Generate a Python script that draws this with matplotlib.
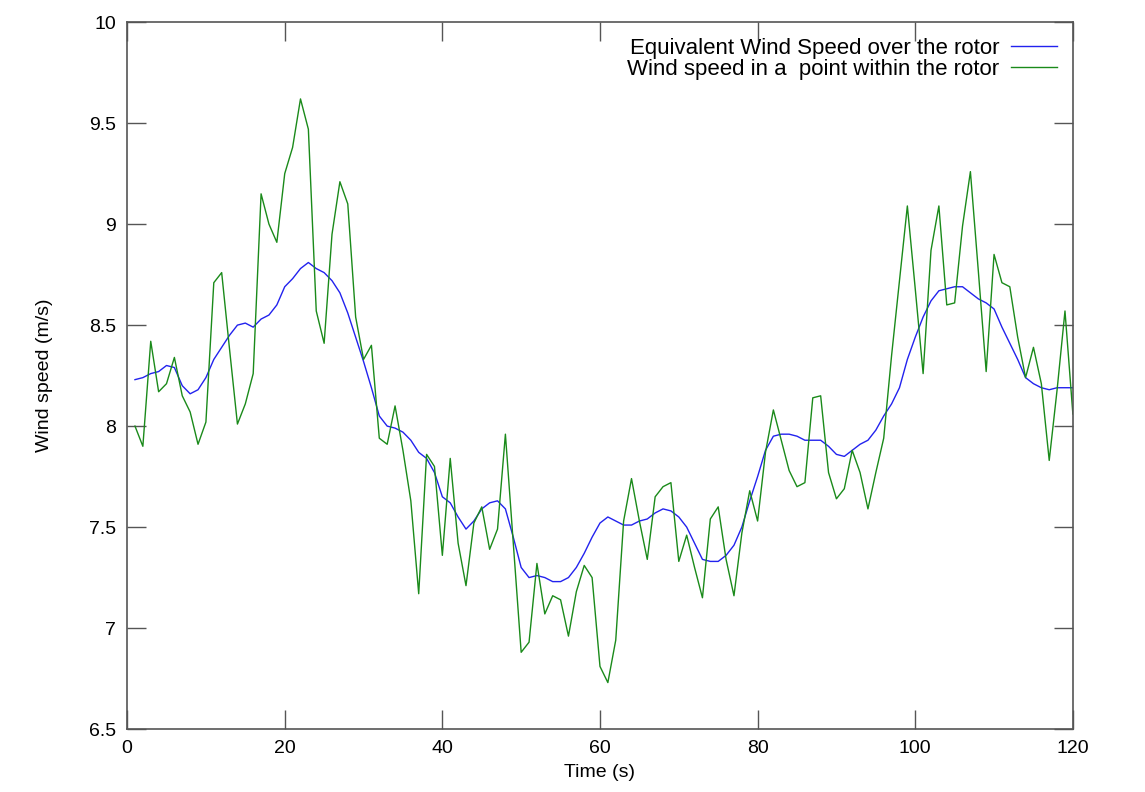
import matplotlib
matplotlib.use('Agg')
import matplotlib.pyplot as plt
import numpy as np

plt.rcParams['font.family'] = ['Liberation Sans', 'DejaVu Sans']

# time axis (s)
time = list(range(1, 121))

# equivalent wind speed over the rotor (m/s)
equiv_speed = [
    8.23, 8.24, 8.26, 8.27, 8.30, 8.29, 8.20, 8.16, 8.18, 8.24,
    8.33, 8.39, 8.45, 8.50, 8.51, 8.49, 8.53, 8.55, 8.60, 8.69,
    8.73, 8.78, 8.81, 8.78, 8.76, 8.72, 8.66, 8.56, 8.44, 8.32,
    8.19, 8.05, 8.00, 7.99, 7.97, 7.93, 7.87, 7.84, 7.77, 7.65,
    7.62, 7.55, 7.49, 7.53, 7.59, 7.62, 7.63, 7.59, 7.45, 7.30,
    7.25, 7.26, 7.25, 7.23, 7.23, 7.25, 7.30, 7.37, 7.45, 7.52,
    7.55, 7.53, 7.51, 7.51, 7.53, 7.54, 7.57, 7.59, 7.58, 7.55,
    7.50, 7.42, 7.34, 7.33, 7.33, 7.36, 7.41, 7.50, 7.63, 7.75,
    7.88, 7.95, 7.96, 7.96, 7.95, 7.93, 7.93, 7.93, 7.90, 7.86,
    7.85, 7.88, 7.91, 7.93, 7.98, 8.05, 8.11, 8.19, 8.33, 8.44,
    8.54, 8.62, 8.67, 8.68, 8.69, 8.69, 8.66, 8.63, 8.61, 8.58,
    8.49, 8.41, 8.33, 8.24, 8.21, 8.19, 8.18, 8.19, 8.19, 8.19,
]

# wind speed in a point within the rotor (m/s)
point_speed = [
    8.00, 7.90, 8.42, 8.17, 8.21, 8.34, 8.15, 8.07, 7.91, 8.02,
    8.71, 8.76, 8.38, 8.01, 8.11, 8.26, 9.15, 9.00, 8.91, 9.25,
    9.38, 9.62, 9.47, 8.57, 8.41, 8.95, 9.21, 9.10, 8.54, 8.33,
    8.40, 7.94, 7.91, 8.10, 7.88, 7.63, 7.17, 7.86, 7.80, 7.36,
    7.84, 7.42, 7.21, 7.52, 7.60, 7.39, 7.49, 7.96, 7.42, 6.88,
    6.93, 7.32, 7.07, 7.16, 7.14, 6.96, 7.18, 7.31, 7.25, 6.81,
    6.73, 6.94, 7.53, 7.74, 7.53, 7.34, 7.65, 7.70, 7.72, 7.33,
    7.46, 7.30, 7.15, 7.54, 7.60, 7.34, 7.16, 7.47, 7.68, 7.53,
    7.87, 8.08, 7.93, 7.78, 7.70, 7.72, 8.14, 8.15, 7.77, 7.64,
    7.69, 7.88, 7.77, 7.59, 7.77, 7.94, 8.35, 8.72, 9.09, 8.68,
    8.26, 8.87, 9.09, 8.60, 8.61, 8.99, 9.26, 8.77, 8.27, 8.85,
    8.71, 8.69, 8.44, 8.24, 8.39, 8.21, 7.83, 8.18, 8.57, 8.06,
]

fig = plt.figure(figsize=(11.45, 7.92), dpi=100)
ax = fig.add_axes([0.111, 0.0795, 0.826, 0.8925])

ax.plot(time, equiv_speed, color='#2222ee', lw=1.0,
        label='Equivalent Wind Speed over the rotor')
ax.plot(time, point_speed, color='#1a8a1a', lw=1.0,
        label='Wind speed in a  point within the rotor')

ax.set_xlim(0, 120)
ax.set_ylim(6.5, 10)
ax.set_xticks(np.arange(0, 121, 20))
ax.set_yticks(np.arange(6.5, 10.01, 0.5))
ax.set_yticklabels(['6.5', '7', '7.5', '8', '8.5', '9', '9.5', '10'])

ax.tick_params(direction='in', length=14, width=1, color='#555555',
               top=True, right=True, labelsize=14, pad=8)
for s in ax.spines.values():
    s.set_color('#555555')
    s.set_linewidth(1.2)

ax.set_xlabel('Time (s)', fontsize=14, labelpad=5)
ax.set_ylabel('Wind speed (m/s)', fontsize=14, labelpad=26)

ax.legend(loc='upper right', frameon=False, markerfirst=False, fontsize=16,
          handlelength=2.1, handletextpad=0.5, labelspacing=0.0,
          borderaxespad=0.5, borderpad=0.2)
for t in ax.get_legend().get_texts():
    t.set_ha('right')
    t.set_position((0, 0))

fig.savefig('out.png', dpi=100)
